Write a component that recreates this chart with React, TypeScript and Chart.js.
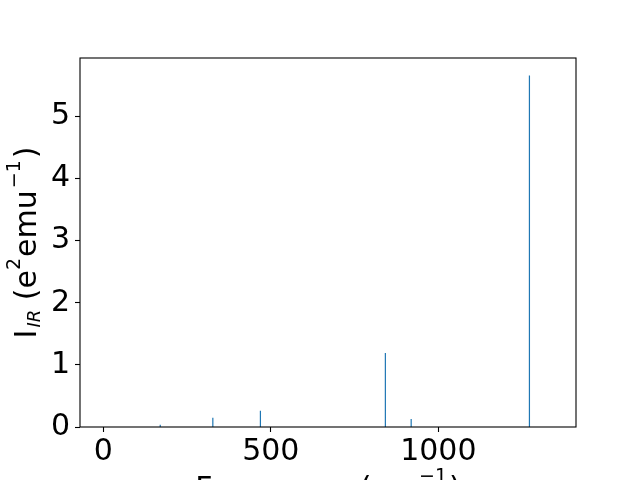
import React, { useEffect, useRef } from "react";
import { Chart, registerables } from "chart.js";

Chart.register(...registerables);

// Mode frequencies (cm^-1) and IR intensities (e^2 emu^-1)
const frequencies = [170, 327, 469, 842, 919, 1272];
const intensities = [0.037, 0.15, 0.26, 1.19, 0.13, 5.66];
const xTicks = [0, 500, 1000];
const yTicks = [0, 1, 2, 3, 4, 5];
const xLimits = [-69.5, 1411];
const yLimits = [0, 5.94];

type Seg = { t: string; s: number; it?: boolean; dy?: number; gap?: number };

const yLabelSegs: Seg[] = [
  { t: "I", s: 30 },
  { t: "IR", s: 18, it: true, dy: 4, gap: 2 },
  { t: " (e", s: 30 },
  { t: "2", s: 19, dy: -15.5 },
  { t: "emu", s: 30, gap: 1 },
  { t: "\u22121", s: 19, dy: -15.5, gap: 2 },
  { t: ")", s: 30, gap: 2 },
];

const xLabelSegs: Seg[] = [
  { t: "Frequency (cm", s: 30 },
  { t: "\u22121", s: 19, dy: -16, gap: 2 },
  { t: ")", s: 30, gap: 2 },
];

const FONT = '"DejaVu Sans"';

function fontOf(seg: Seg) {
  return `${seg.it ? "italic " : ""}${seg.s}px ${FONT}`;
}

function drawRich(ctx: CanvasRenderingContext2D, segs: Seg[], cx: number, cy: number) {
  let total = 0;
  const widths = segs.map((seg) => {
    ctx.font = fontOf(seg);
    const w = ctx.measureText(seg.t).width;
    total += w + (seg.gap || 0);
    return w;
  });
  let x = cx - total / 2;
  ctx.textBaseline = "alphabetic";
  ctx.textAlign = "left";
  ctx.fillStyle = "#000";
  segs.forEach((seg, i) => {
    x += seg.gap || 0;
    ctx.font = fontOf(seg);
    ctx.fillText(seg.t, x, cy + (seg.dy || 0));
    x += widths[i];
  });
}

const framePlugin = {
  id: "frameAndLabels",
  afterDraw(chart: any) {
    const ctx: CanvasRenderingContext2D = chart.ctx;
    const a = chart.chartArea;
    ctx.save();
    ctx.strokeStyle = "#000";
    ctx.lineWidth = 1.1;
    ctx.strokeRect(a.left, a.top, a.right - a.left, a.bottom - a.top);
    ctx.restore();

    ctx.save();
    drawRich(ctx, xLabelSegs, (a.left + a.right) / 2, 498);
    ctx.restore();

    ctx.save();
    ctx.translate(35.5, (a.top + a.bottom) / 2);
    ctx.rotate(-Math.PI / 2);
    drawRich(ctx, yLabelSegs, 0, 0);
    ctx.restore();
  },
};

export default function App() {
  const ref = useRef<HTMLCanvasElement | null>(null);

  useEffect(() => {
    if (!ref.current) return;
    const points: any[] = [];
    frequencies.forEach((f, i) => {
      points.push({ x: f, y: 0 });
      points.push({ x: f, y: intensities[i] });
      points.push({ x: f, y: null });
    });
    const chart = new Chart(ref.current, {
      type: "line",
      data: {
        datasets: [
          {
            data: points,
            borderColor: "#1f77b4",
            borderWidth: 1.2,
            pointRadius: 0,
            spanGaps: false,
            fill: false,
          },
        ],
      },
      options: {
        responsive: false,
        animation: false,
        events: [],
        layout: { padding: { top: 58, right: 64, left: 0, bottom: 0 } },
        plugins: { legend: { display: false }, tooltip: { enabled: false } },
        scales: {
          x: {
            type: "linear",
            min: xLimits[0],
            max: xLimits[1],
            afterBuildTicks: (s: any) => {
              s.ticks = xTicks.map((v) => ({ value: v }));
            },
            afterFit: (s: any) => {
              s.height = 53;
            },
            grid: {
              display: true,
              drawOnChartArea: false,
              drawTicks: true,
              tickLength: 5,
              tickWidth: 1.1,
              tickColor: "#000",
              color: "#000",
            },
            border: { display: false },
            ticks: {
              color: "#000",
              font: { family: "DejaVu Sans", size: 30 },
              padding: 2,
              maxRotation: 0,
              autoSkip: false,
              callback: (v: any) => String(v),
            },
          },
          y: {
            type: "linear",
            min: yLimits[0],
            max: yLimits[1],
            afterBuildTicks: (s: any) => {
              s.ticks = yTicks.map((v) => ({ value: v }));
            },
            afterFit: (s: any) => {
              s.width = 80;
            },
            grid: {
              display: true,
              drawOnChartArea: false,
              drawTicks: true,
              tickLength: 5,
              tickWidth: 1.1,
              tickColor: "#000",
              color: "#000",
            },
            border: { display: false },
            ticks: {
              color: "#000",
              font: { family: "DejaVu Sans", size: 30 },
              padding: 5,
              autoSkip: false,
              callback: (v: any) => String(v),
            },
          },
        },
      },
      plugins: [framePlugin],
    });
    return () => chart.destroy();
  }, []);

  return (
    <div style={{ position: "fixed", left: 0, top: 0, width: 640, height: 480, background: "#fff" }}>
      <canvas ref={ref} width={640} height={480} style={{ display: "block" }} />
    </div>
  );
}
